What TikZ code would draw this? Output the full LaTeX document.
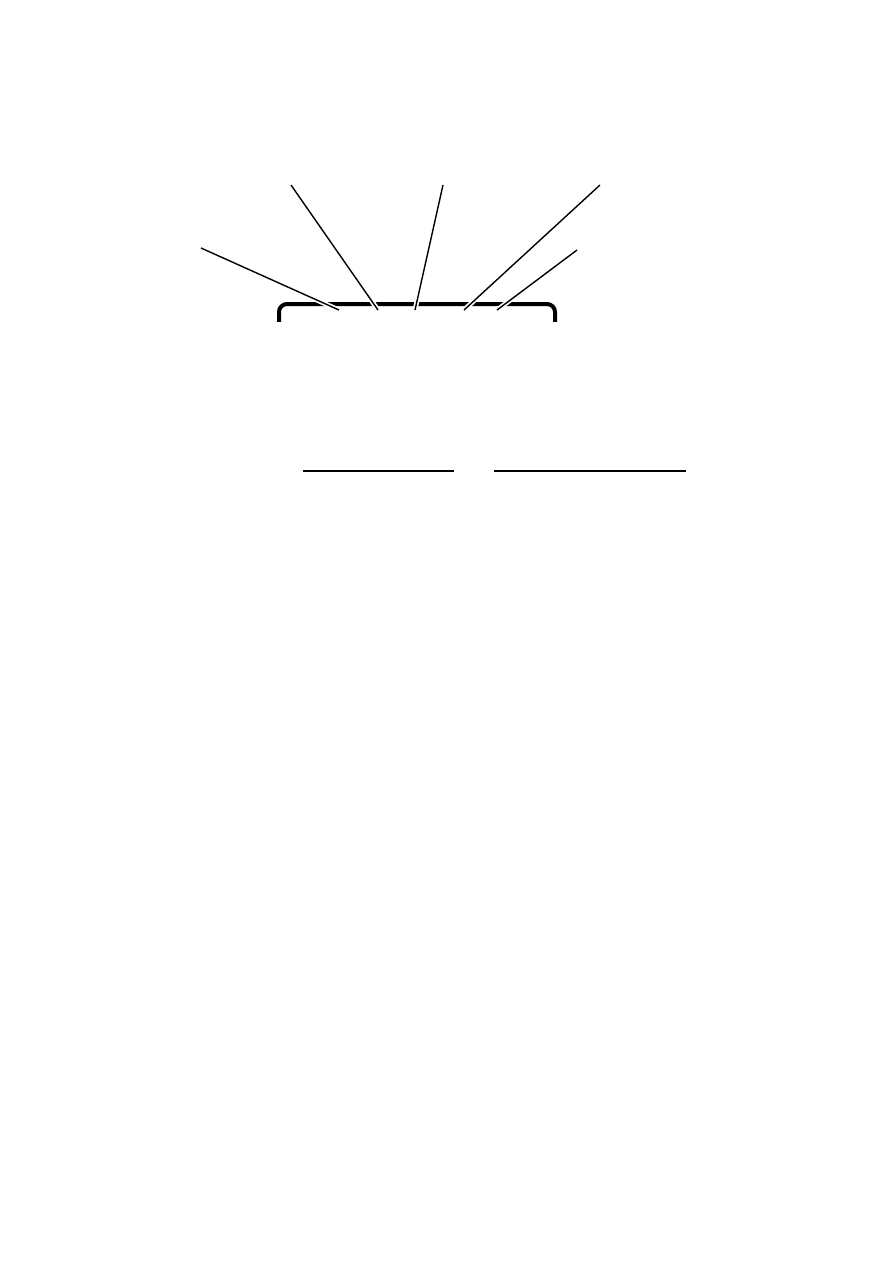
\documentclass[tikz,border=0pt]{standalone}
\usepackage{tikz}
\usetikzlibrary{positioning}

\begin{document}
\begin{tikzpicture}[
    x = 0.5pt, y = -0.5pt, % one unit per pixel, y pointing down
    line cap = butt,
    semithick % line style
    ]

    \tikzset{
    frame/.style = {draw = black, line width = 2pt, rounded corners = 4pt},
    leader/.style = {preaction = {draw = white, line width = 2.4pt},
                     draw = black, line width = 0.7pt},
    rule/.style = {draw = black, line width = 1pt}
    }

    \useasboundingbox (0,0) rectangle (894,1287);

    % top of the box
    \begin{scope}
    \clip (270,295) rectangle (565,321);
    \draw[frame] (279,304) rectangle (555,420);
    \end{scope}

    % leader ends
    \coordinate (tail1) at (201,248);
    \coordinate (tail2) at (291,185);
    \coordinate (tail3) at (443,185);
    \coordinate (tail4) at (600,185);
    \coordinate (tail5) at (577,250);
    \coordinate (tip1) at (339,310);
    \coordinate (tip2) at (378,310);
    \coordinate (tip3) at (415,310);
    \coordinate (tip4) at (464,310);
    \coordinate (tip5) at (497,310);

    \draw[leader] (tail1) -- (tip1);
    \draw[leader] (tail2) -- (tip2);
    \draw[leader] (tail3) -- (tip3);
    \draw[leader] (tail4) -- (tip4);
    \draw[leader] (tail5) -- (tip5);

    % rules
    \coordinate (ruleAl) at (303,471);
    \coordinate (ruleAr) at (454,471);
    \coordinate (ruleBl) at (494,471);
    \coordinate (ruleBr) at (686,471);
    \draw[rule] (ruleAl) -- (ruleAr);
    \draw[rule] (ruleBl) -- (ruleBr);
\end{tikzpicture}
\end{document}
